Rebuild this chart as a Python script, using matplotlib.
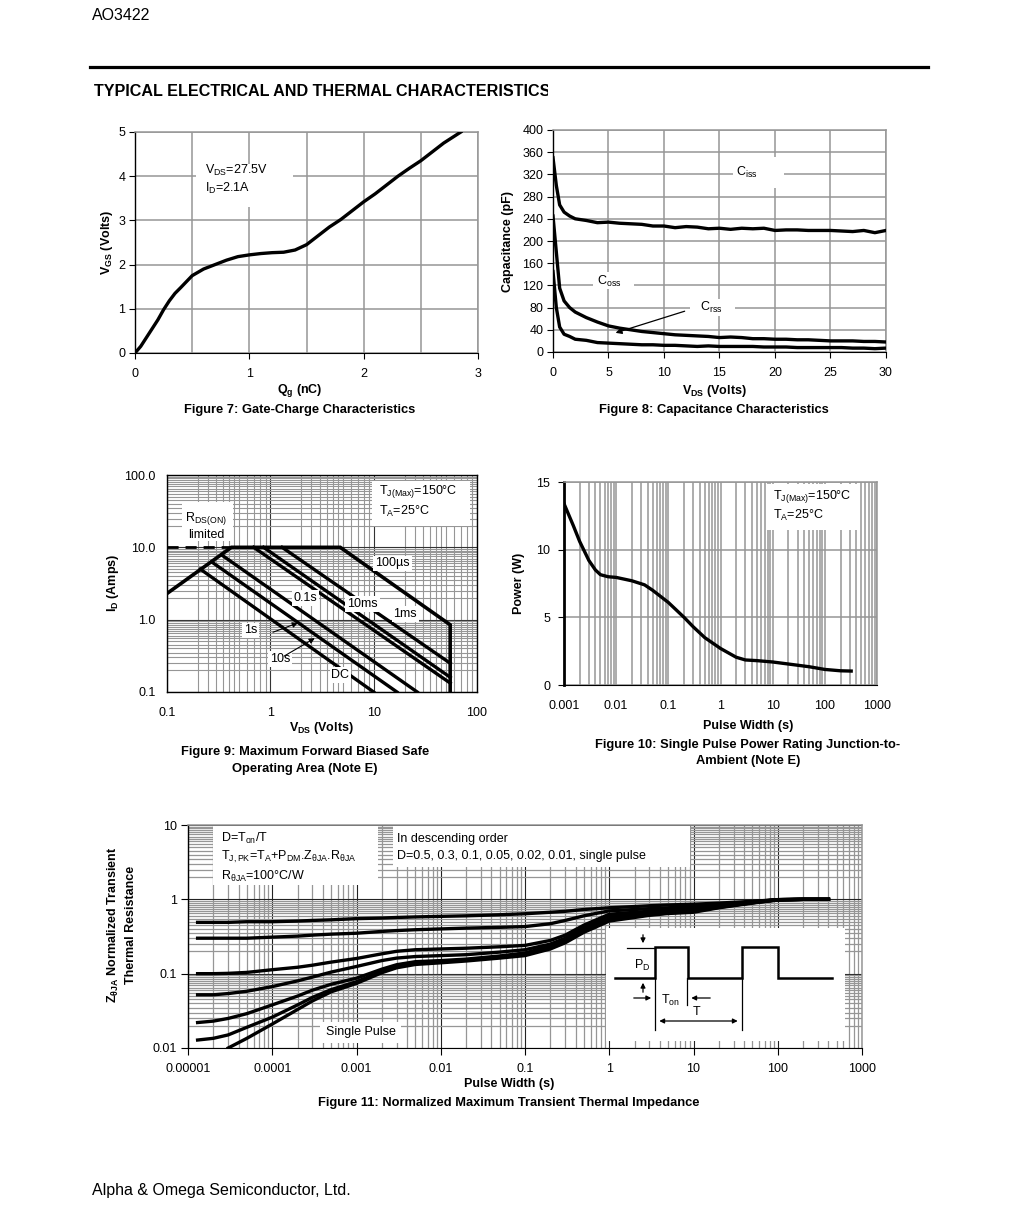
import numpy as np
import matplotlib
matplotlib.use('Agg')
import matplotlib.pyplot as plt
from matplotlib.patches import Rectangle
from matplotlib.ticker import FixedLocator, NullFormatter, LogLocator, FixedFormatter, MultipleLocator

plt.rcParams['font.family'] = ['Liberation Sans', 'DejaVu Sans']
plt.rcParams['mathtext.fontset'] = 'custom'
plt.rcParams['mathtext.rm'] = 'Liberation Sans'
plt.rcParams['mathtext.it'] = 'Liberation Sans:italic'
plt.rcParams['mathtext.bf'] = 'Liberation Sans:bold'

# ---------------- data ----------------
# Figure 7: gate charge
qg = [0, 0.05, 0.1, 0.15, 0.2, 0.25, 0.3, 0.35, 0.4, 0.5, 0.6, 0.65, 0.7, 0.8, 0.9, 1.0,
      1.1, 1.2, 1.3, 1.4, 1.5, 1.6, 1.7, 1.8, 1.9, 2.0, 2.1, 2.2, 2.3, 2.4, 2.5, 2.6, 2.7, 2.85]
vgs = [0, 0.15, 0.35, 0.55, 0.75, 0.98, 1.18, 1.35, 1.48, 1.75, 1.9, 1.95, 2.0, 2.1, 2.18, 2.22,
       2.25, 2.27, 2.28, 2.33, 2.45, 2.65, 2.85, 3.02, 3.22, 3.42, 3.6, 3.8, 4.0, 4.18, 4.35, 4.55, 4.75, 5.0]

# Figure 8: capacitance
vds_c = [0, 0.3, 0.6, 1, 1.5, 2, 3, 4, 5, 6, 7, 8, 9, 10, 11, 12, 13, 14, 15, 16, 17, 18, 19, 20,
         21, 22, 23, 24, 25, 26, 27, 28, 29, 30]
ciss = [350, 300, 265, 252, 245, 240, 237, 233, 234, 232, 231, 230, 227, 227, 224, 226, 225, 222, 223,
        221, 223, 222, 223, 219, 220, 220, 219, 219, 219, 218, 217, 219, 215, 219]
coss = [245, 180, 115, 92, 80, 72, 62, 54, 47, 43, 40, 37, 35, 33, 31, 30, 29, 28, 26, 27, 26, 24, 24,
        23, 23, 22, 22, 21, 20, 20, 20, 19, 19, 18]
crss = [145, 80, 45, 32, 28, 23, 21, 17, 16, 15, 14, 13, 13, 12, 12, 11, 10, 11, 10, 10, 10, 10, 9,
        9, 9, 8, 8, 8, 8, 8, 7, 7, 6, 7]

# Figure 9: SOA
soa_bound_v = [0.1, 0.42, 4.75, 55, 55]
soa_bound_i = [2.3, 10, 10, 0.85, 0.1]
rds_dash_v = [0.1, 0.42]
rds_dash_i = [10, 10]
soa_names = ['1ms', '10ms', '0.1s', '1s', '10s', 'DC']
soa_v = [[1.3, 55], [0.86, 55], [0.69, 55], [0.34, 26.4], [0.27, 16.8], [0.21, 10]]
soa_i = [[10, 0.25], [10, 0.16], [10, 0.133], [7.8, 0.1], [6.3, 0.1], [5.0, 0.1]]

# Figure 10: single pulse power
pw = [0.001, 0.0015, 0.002, 0.003, 0.004, 0.005, 0.007, 0.01, 0.02, 0.035, 0.05, 0.1, 0.2, 0.3,
      0.5, 1, 2, 3, 5, 10, 20, 50, 100, 200, 320]
ppk = [13.4, 11.8, 10.6, 9.2, 8.5, 8.15, 8.0, 7.95, 7.7, 7.4, 7.0, 6.1, 5.0, 4.3, 3.5, 2.7, 2.05,
       1.85, 1.8, 1.7, 1.55, 1.35, 1.15, 1.05, 1.03]

# Figure 11: transient thermal impedance
tz = [1.3e-5, 2e-5, 3e-5, 5e-5, 1e-4, 2e-4, 3e-4, 5e-4, 1e-3, 2e-3, 3e-3, 5e-3, 1e-2, 2e-2, 5e-2,
      0.1, 0.2, 0.3, 0.5, 1, 2, 3, 5, 10, 20, 50, 100, 200, 400]
z_d05 = [0.49, 0.49, 0.49, 0.50, 0.50, 0.51, 0.52, 0.53, 0.55, 0.56, 0.57, 0.58, 0.59, 0.60, 0.62,
         0.64, 0.67, 0.69, 0.73, 0.77, 0.80, 0.82, 0.84, 0.86, 0.89, 0.94, 0.99, 1.0, 1.0]
z_d03 = [0.30, 0.30, 0.30, 0.30, 0.31, 0.32, 0.33, 0.34, 0.35, 0.37, 0.38, 0.39, 0.40, 0.41, 0.42,
         0.43, 0.47, 0.52, 0.60, 0.70, 0.73, 0.75, 0.77, 0.80, 0.85, 0.93, 0.99, 1.0, 1.0]
z_d01 = [0.100, 0.100, 0.101, 0.104, 0.113, 0.122, 0.13, 0.143, 0.16, 0.185, 0.20, 0.21, 0.215, 0.22,
         0.23, 0.24, 0.28, 0.33, 0.45, 0.63, 0.67, 0.69, 0.72, 0.76, 0.82, 0.92, 0.99, 1.0, 1.0]
z_d005 = [0.052, 0.052, 0.054, 0.058, 0.067, 0.08, 0.09, 0.105, 0.125, 0.15, 0.162, 0.17, 0.175, 0.18,
          0.195, 0.21, 0.25, 0.30, 0.42, 0.60, 0.64, 0.67, 0.70, 0.74, 0.81, 0.91, 0.99, 1.0, 1.0]
z_d002 = [0.022, 0.023, 0.025, 0.029, 0.038, 0.05, 0.06, 0.072, 0.087, 0.115, 0.132, 0.145, 0.15, 0.157,
          0.173, 0.19, 0.235, 0.28, 0.39, 0.55, 0.61, 0.64, 0.67, 0.71, 0.79, 0.90, 0.99, 1.0, 1.0]
z_d001 = [0.0128, 0.0135, 0.015, 0.019, 0.026, 0.038, 0.048, 0.061, 0.078, 0.107, 0.123, 0.137, 0.145,
          0.152, 0.167, 0.18, 0.225, 0.27, 0.37, 0.53, 0.59, 0.62, 0.655, 0.69, 0.78, 0.90, 0.98, 1.0, 1.0]
z_single = [np.nan, np.nan, 0.01, 0.0135, 0.021, 0.033, 0.043, 0.057, 0.074, 0.103, 0.12, 0.133, 0.14,
            0.148, 0.162, 0.175, 0.215, 0.26, 0.36, 0.51, 0.57, 0.61, 0.645, 0.67, 0.77, 0.89, 0.98, 1.0, 1.0]

# pulse schematic (local units of inset)
pulse_x = [9, 49, 49, 82, 82, 136, 136, 172, 172, 226]
pulse_y = [50, 50, 18.7, 18.7, 50, 50, 18.7, 18.7, 50, 50]

# ---------------- figure ----------------
W, H = 1020, 1211
fig = plt.figure(figsize=(W / 100, H / 100), dpi=100)
GRID = '#969696'
TICK = 9
CAP = 9.3


def add_ax(l, t, r, b, **kw):
    ax = fig.add_axes([l / W, 1 - b / H, (r - l) / W, (b - t) / H], **kw)
    ax._pxbox = (l, t, r, b)
    return ax


def wbox(ax, x0, y0, x1, y1):
    l, t, r, b = ax._pxbox
    ax.add_patch(Rectangle(((x0 - l) / (r - l), (b - y1) / (b - t)), (x1 - x0) / (r - l),
                           (y1 - y0) / (b - t), transform=ax.transAxes, fc='white', ec='none',
                           zorder=1.5))


def ftext(x, y, s, **kw):
    return fig.text(x / W, 1 - y / H, s, **kw)


def spines(ax, top=GRID, right=GRID, left='black', bottom='black', lw_left=1.0):
    ax.spines['top'].set_color(top)
    ax.spines['right'].set_color(right)
    ax.spines['left'].set_color(left)
    ax.spines['bottom'].set_color(bottom)
    ax.spines['left'].set_linewidth(lw_left)
    for s in ['top', 'right']:
        ax.spines[s].set_linewidth(1.1)


def ticks(ax, xpad=6):
    ax.tick_params(which='major', direction='out', length=4, width=0.8, labelsize=TICK, pad=3)
    ax.tick_params(axis='x', which='major', pad=xpad)
    ax.tick_params(which='minor', length=0)
    ax.set_axisbelow(True)


# header / footer
ftext(92, 15, 'AO3422', fontsize=11.5, va='center', ha='left')
fig.add_artist(plt.Line2D([90 / W, 928 / W], [1 - 67 / H, 1 - 67 / H], color='black', lw=2.3))
hax = fig.add_axes([0, 1 - 104 / H, 548 / W, 24 / H])
hax.axis('off')
hax.text(94 / 548, 0.5, 'TYPICAL ELECTRICAL AND THERMAL CHARACTERISTICS', fontsize=11.6,
         fontweight='bold', va='center', ha='left', clip_on=True, transform=hax.transAxes)
ftext(92, 1190, 'Alpha & Omega Semiconductor, Ltd.', fontsize=11.5, va='center', ha='left')

# ---------------- Figure 7 ----------------
ax7 = add_ax(135, 132, 478, 353)
ax7.plot(qg, vgs, color='black', lw=2.4, zorder=3)
ax7.set_xlim(0, 3)
ax7.set_ylim(0, 5)
ax7.set_xticks([0, 1, 2, 3])
ax7.set_yticks([0, 1, 2, 3, 4, 5])
ax7.xaxis.set_minor_locator(MultipleLocator(0.5))
ax7.grid(axis='x', which='both', color=GRID, lw=1.1)
ax7.grid(axis='y', which='major', color=GRID, lw=1.1)
ticks(ax7, xpad=7)
spines(ax7)
wbox(ax7, 196, 164, 293, 207)
ax7.text(0.61, 4.14, r'$\mathrm{V_{DS}}$=27.5V', fontsize=9, va='center', ha='left', zorder=4)
ax7.text(0.61, 3.73, r'$\mathrm{I_{D}}$=2.1A', fontsize=9, va='center', ha='left', zorder=4)
ftext(300, 391, r'$\mathbf{Q_{g}}$ (nC)', fontsize=9, fontweight='bold', ha='center', va='center')
ftext(107, 242, r'$\mathbf{V_{GS}}$ (Volts)', fontsize=9, fontweight='bold', ha='center',
      va='center', rotation=90)
ftext(300, 410, 'Figure 7: Gate-Charge Characteristics', fontsize=CAP, fontweight='bold',
      ha='center', va='center')

# ---------------- Figure 8 ----------------
ax8 = add_ax(553, 130, 886, 352)
for c in (ciss, coss, crss):
    ax8.plot(vds_c, c, color='black', lw=2.4, zorder=3)
ax8.set_xlim(0, 30)
ax8.set_ylim(0, 400)
ax8.set_xticks(range(0, 31, 5))
ax8.set_yticks(range(0, 401, 40))
ax8.grid(True, which='major', color=GRID, lw=1.1)
ticks(ax8, xpad=7)
spines(ax8)
wbox(ax8, 733, 157, 784, 188)
wbox(ax8, 593, 272, 634, 289)
wbox(ax8, 690, 299, 735, 316)
ax8.text(17.5, 324, r'$\mathrm{C_{iss}}$', fontsize=9, ha='center', va='center', zorder=4)
ax8.text(5.1, 127, r'$\mathrm{C_{oss}}$', fontsize=9, ha='center', va='center', zorder=4)
ax8.text(14.3, 80, r'$\mathrm{C_{rss}}$', fontsize=9, ha='center', va='center', zorder=4)
ax8.annotate('', xy=(5.4, 33), xytext=(12.1, 75),
             arrowprops=dict(arrowstyle='-|>', color='black', lw=0.9, mutation_scale=9), zorder=4)
ftext(714, 391, r'$\mathbf{V_{DS}}$ (Volts)', fontsize=9, fontweight='bold', ha='center', va='center')
ftext(508, 241, 'Capacitance (pF)', fontsize=9, fontweight='bold', ha='center', va='center',
      rotation=90)
ftext(714, 410, 'Figure 8: Capacitance Characteristics', fontsize=CAP, fontweight='bold',
      ha='center', va='center')

# ---------------- Figure 9 ----------------
ax9 = add_ax(167, 475, 477, 692)
ax9.set_xscale('log')
ax9.set_yscale('log')
ax9.set_xlim(0.1, 100)
ax9.set_ylim(0.1, 100)
ax9.xaxis.set_major_locator(FixedLocator([0.1, 1, 10, 100]))
ax9.xaxis.set_major_formatter(FixedFormatter(['0.1', '1', '10', '100']))
ax9.yaxis.set_major_locator(FixedLocator([0.1, 1, 10, 100]))
ax9.yaxis.set_major_formatter(FixedFormatter(['0.1', '1.0', '10.0', '100.0']))
ax9.xaxis.set_minor_locator(LogLocator(subs=[2, 2.5, 3, 3.5, 4, 4.5, 5, 6, 7, 8, 9], numticks=100))
ax9.yaxis.set_minor_locator(LogLocator(subs=np.arange(2, 10, 0.5), numticks=100))
ax9.xaxis.set_minor_formatter(NullFormatter())
ax9.yaxis.set_minor_formatter(NullFormatter())
ax9.grid(True, which='minor', color=GRID, lw=0.8)
ax9.grid(True, which='major', color='#333333', lw=0.8)
ticks(ax9)
ax9.tick_params(which='major', length=0, pad=8)
ax9.tick_params(axis='x', which='major', pad=11)
for s in ax9.spines.values():
    s.set_color('black')
    s.set_linewidth(1.0)
ax9.plot(soa_bound_v, soa_bound_i, color='black', lw=2.6, zorder=3, solid_joinstyle='miter')
ax9.plot(rds_dash_v, rds_dash_i, color='black', lw=2.0, ls=(0, (4, 2.5)), zorder=3)
for v, i in zip(soa_v, soa_i):
    ax9.plot(v, i, color='black', lw=2.4, zorder=3)
wbox(ax9, 182, 502, 233, 541)
ax9.text(0.24, 20, r'$\mathrm{R_{DS(ON)}}$' + '\nlimited', fontsize=9, ha='center', va='center',
         zorder=4, linespacing=1.3)
wbox(ax9, 372, 481, 470, 526)
ax9.text(11.3, 43.7, r'$\mathrm{T_{J(Max)}}$=150°C' + '\n' + r'$\mathrm{T_{A}}$=25°C', fontsize=9,
         ha='left', va='center', zorder=4, linespacing=1.4)
lab_bg = dict(boxstyle='square,pad=0.15', fc='white', ec='none')
ax9.text(15.2, 6.0, '100µs', fontsize=9, ha='center', va='center', zorder=4, bbox=lab_bg)
ax9.text(2.18, 1.98, '0.1s', fontsize=9, ha='center', va='center', zorder=4, bbox=lab_bg)
ax9.text(7.8, 1.63, '10ms', fontsize=9, ha='center', va='center', zorder=4, bbox=lab_bg)
ax9.text(20.2, 1.19, '1ms', fontsize=9, ha='center', va='center', zorder=4, bbox=lab_bg)
ax9.text(0.64, 0.71, '1s', fontsize=9, ha='center', va='center', zorder=4, bbox=lab_bg)
ax9.text(1.25, 0.283, '10s', fontsize=9, ha='center', va='center', zorder=4, bbox=lab_bg)
ax9.text(4.77, 0.17, 'DC', fontsize=9, ha='center', va='center', zorder=4, bbox=lab_bg)
arr = dict(arrowstyle='-|>', color='black', lw=0.8, mutation_scale=8)
ax9.annotate('', xy=(1.96, 0.93), xytext=(1.0, 0.65), arrowprops=arr, zorder=4)
ax9.annotate('', xy=(2.84, 0.58), xytext=(1.29, 0.30), arrowprops=arr, zorder=4)
ftext(321, 728, r'$\mathbf{V_{DS}}$ (Volts)', fontsize=9, fontweight='bold', ha='center', va='center')
ftext(113, 583, r'$\mathbf{I_{D}}$ (Amps)', fontsize=9, fontweight='bold', ha='center', va='center',
      rotation=90)
ftext(305, 752, 'Figure 9: Maximum Forward Biased Safe', fontsize=CAP, fontweight='bold',
      ha='center', va='center')
ftext(305, 769, 'Operating Area (Note E)', fontsize=CAP, fontweight='bold', ha='center', va='center')

# ---------------- Figure 10 ----------------
ax10 = add_ax(564, 482, 877, 685)
ax10.set_xscale('log')
ax10.set_xlim(0.001, 1000)
ax10.set_ylim(0, 15)
ax10.xaxis.set_major_locator(FixedLocator([0.001, 0.01, 0.1, 1, 10, 100, 1000]))
ax10.xaxis.set_major_formatter(FixedFormatter(['0.001', '0.01', '0.1', '1', '10', '100', '1000']))
ax10.xaxis.set_minor_locator(LogLocator(subs=np.arange(2, 10), numticks=100))
ax10.xaxis.set_minor_formatter(NullFormatter())
ax10.set_yticks([0, 5, 10, 15])
ax10.grid(True, axis='x', which='both', color=GRID, lw=1.1)
ax10.grid(True, axis='y', which='major', color=GRID, lw=1.1)
ticks(ax10)
ax10.tick_params(axis='x', which='major', length=0, pad=11)
ax10.tick_params(axis='y', which='major', pad=6)
spines(ax10, lw_left=2.0)
ax10.plot(pw, ppk, color='black', lw=2.4, zorder=3)
wbox(ax10, 767, 484, 858, 530)
ax10.text(10.2, 13.9, r'$\mathrm{T_{J(Max)}}$=150°C', fontsize=9, ha='left', va='center', zorder=4)
ax10.text(10.2, 12.5, r'$\mathrm{T_{A}}$=25°C', fontsize=9, ha='left', va='center', zorder=4)
ftext(748, 726, 'Pulse Width (s)', fontsize=9, fontweight='bold', ha='center', va='center')
ftext(519, 583, 'Power (W)', fontsize=9, fontweight='bold', ha='center', va='center', rotation=90)
ftext(748, 745, 'Figure 10: Single Pulse Power Rating Junction-to-', fontsize=CAP,
      fontweight='bold', ha='center', va='center')
ftext(748, 761, 'Ambient (Note E)', fontsize=CAP, fontweight='bold', ha='center', va='center')

# ---------------- Figure 11 ----------------
ax11 = add_ax(188, 825, 862, 1048)
ax11.set_xscale('log')
ax11.set_yscale('log')
ax11.set_xlim(1e-5, 1000)
ax11.set_ylim(0.01, 10)
xt = [1e-5, 1e-4, 1e-3, 1e-2, 0.1, 1, 10, 100, 1000]
ax11.xaxis.set_major_locator(FixedLocator(xt))
ax11.xaxis.set_major_formatter(FixedFormatter(['0.00001', '0.0001', '0.001', '0.01', '0.1', '1',
                                               '10', '100', '1000']))
ax11.yaxis.set_major_locator(FixedLocator([0.01, 0.1, 1, 10]))
ax11.yaxis.set_major_formatter(FixedFormatter(['0.01', '0.1', '1', '10']))
ax11.xaxis.set_minor_locator(LogLocator(subs=np.arange(2, 10), numticks=100))
ax11.yaxis.set_minor_locator(LogLocator(subs=np.arange(2, 10, 0.5), numticks=100))
ax11.xaxis.set_minor_formatter(NullFormatter())
ax11.yaxis.set_minor_formatter(NullFormatter())
ax11.grid(True, which='minor', color=GRID, lw=0.9)
ax11.grid(True, which='major', color='#222222', lw=0.8)
ticks(ax11)
ax11.tick_params(which='major', length=5, pad=3)
ax11.tick_params(axis='x', which='major', pad=6)
spines(ax11)
for z in (z_d05, z_d03, z_d01, z_d005, z_d002, z_d001, z_single):
    ax11.plot(tz, z, color='black', lw=2.4, zorder=3)
wbox(ax11, 213, 826, 378, 885)
ax11.text((221 - 188) / 674, 1 - (838 - 825) / 223, r'D=$\mathrm{T_{on}}$/T', fontsize=9,
          ha='left', va='center', transform=ax11.transAxes, zorder=4)
ax11.text((221 - 188) / 674, 1 - (857 - 825) / 223,
          r'$\mathrm{T_{J,PK}}$=$\mathrm{T_{A}}$+$\mathrm{P_{DM}}$.$\mathrm{Z_{θJA}}$.$\mathrm{R_{θJA}}$',
          fontsize=9, ha='left', va='center', transform=ax11.transAxes, zorder=4)
ax11.text((221 - 188) / 674, 1 - (876 - 825) / 223, r'$\mathrm{R_{θJA}}$=100°C/W', fontsize=9,
          ha='left', va='center', transform=ax11.transAxes, zorder=4)
wbox(ax11, 393, 826, 690, 867)
ax11.text((397 - 188) / 674, 1 - (839 - 825) / 223, 'In descending order', fontsize=9,
          ha='left', va='center', transform=ax11.transAxes, zorder=4)
ax11.text((397 - 188) / 674, 1 - (856 - 825) / 223,
          'D=0.5, 0.3, 0.1, 0.05, 0.02, 0.01, single pulse', fontsize=9,
          ha='left', va='center', transform=ax11.transAxes, zorder=4)
wbox(ax11, 320, 1022, 401, 1043)
ax11.text((361 - 188) / 674, 1 - (1032 - 825) / 223, 'Single Pulse', fontsize=9, ha='center',
          va='center', transform=ax11.transAxes, zorder=4)
ftext(509, 1084, 'Pulse Width (s)', fontsize=9, fontweight='bold', ha='center', va='center')
ftext(113, 925, r'$\mathbf{Z_{θJA}}$ Normalized Transient', fontsize=9, fontweight='bold',
      ha='center', va='center', rotation=90)
ftext(131, 925, 'Thermal Resistance', fontsize=9, fontweight='bold', ha='center', va='center',
      rotation=90)
ftext(509, 1103, 'Figure 11: Normalized Maximum Transient Thermal Impedance', fontsize=CAP,
      fontweight='bold', ha='center', va='center')

# inset pulse schematic
axi = add_ax(606, 928, 845, 1041)
axi.set_xlim(0, 239)
axi.set_ylim(113, 0)
axi.axis('off')
axi.add_patch(Rectangle((0, 0), 239, 113, fc='white', ec='none', zorder=0))
axi.plot(pulse_x, pulse_y, color='black', lw=1.8, zorder=2, solid_joinstyle='miter')
thin = dict(color='black', lw=0.9, zorder=2)
axi.plot([21, 49], [20, 20], **thin)
axi.plot([49, 49], [50, 102], **thin)
axi.plot([81.3, 81.3], [50, 77], **thin)
axi.plot([135.7, 135.7], [50, 102], **thin)
sarr = dict(arrowstyle='-|>', color='black', lw=0.9, mutation_scale=7)
axi.annotate('', xy=(37, 18), xytext=(37, 4), arrowprops=sarr)
axi.annotate('', xy=(37, 52), xytext=(37, 67), arrowprops=sarr)
axi.annotate('', xy=(48, 70), xytext=(25, 70), arrowprops=sarr)
axi.annotate('', xy=(82.5, 70), xytext=(107, 70), arrowprops=sarr)
axi.annotate('', xy=(50.5, 93), xytext=(134.5, 93),
             arrowprops=dict(arrowstyle='<|-|>', color='black', lw=0.9, mutation_scale=7))
axi.text(36, 37, r'$\mathrm{P_{D}}$', fontsize=9, ha='center', va='center')
axi.text(64, 72, r'$\mathrm{T_{on}}$', fontsize=9, ha='center', va='center')
axi.text(91, 84, 'T', fontsize=9, ha='center', va='center')

fig.savefig('out.png', dpi=100)
